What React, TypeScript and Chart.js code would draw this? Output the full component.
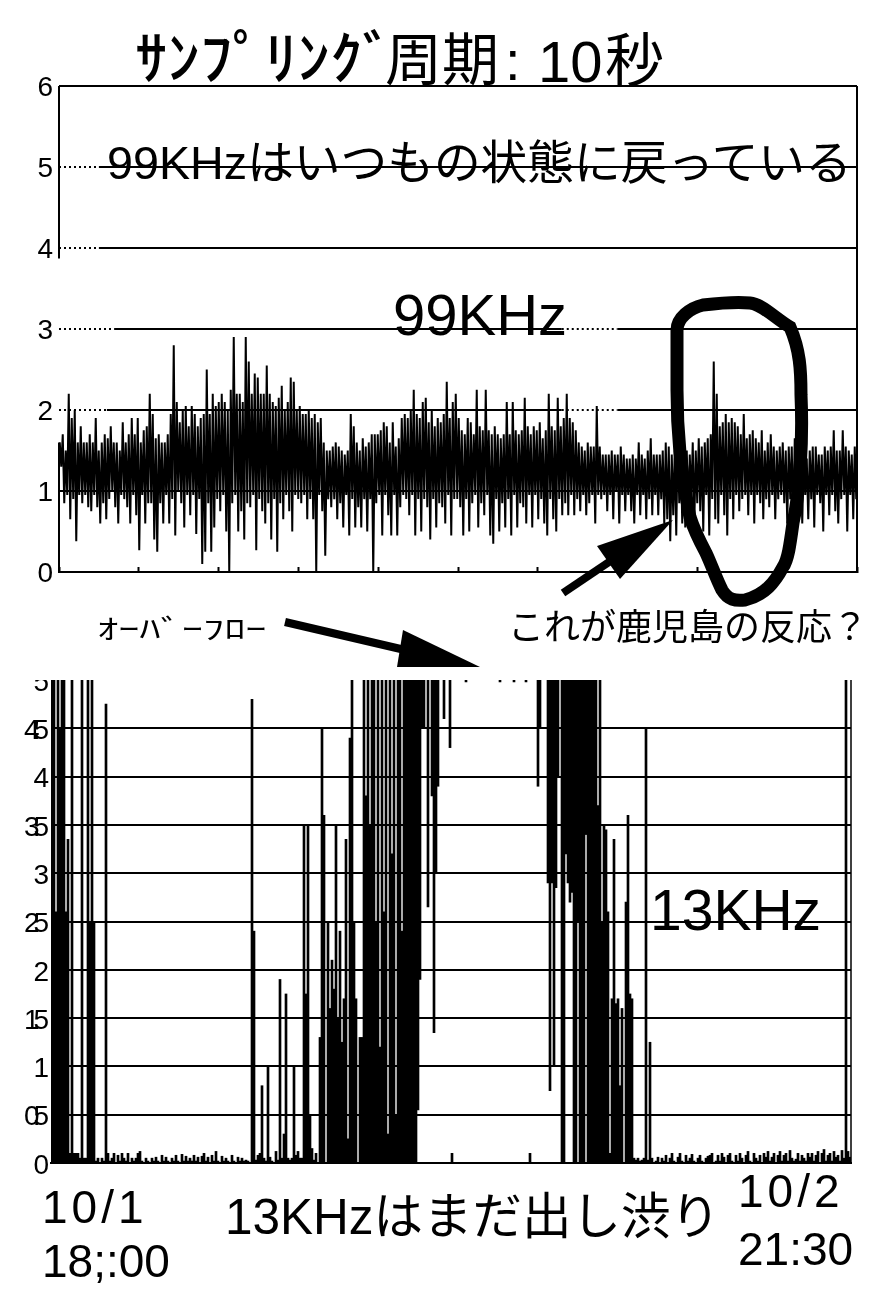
import React, { useEffect, useRef } from "react";
import { Chart, registerables } from "chart.js";

Chart.register(...registerables);

// ---- 99 KHz panel: spike tops / bottoms, one pair per column
const spikeHigh99 = [
  1.6,1.7,1.5,2.2,1.9,2.0,1.6,1.8,1.6,1.6,
  1.7,1.6,1.9,1.5,1.6,1.7,1.65,1.8,1.6,1.6,
  1.5,1.85,1.6,1.7,1.9,1.7,1.9,1.6,1.75,1.8,
  2.2,1.95,1.65,1.7,1.6,1.6,1.7,1.95,2.8,2.1,
  1.85,2.0,2.05,1.8,2.05,1.95,1.8,1.9,1.95,2.5,
  1.95,2.2,2.05,2.1,2.2,2.1,2.0,2.25,2.9,2.2,
  2.2,2.1,2.9,2.6,2.2,2.45,2.4,2.2,2.2,2.55,
  2.2,2.1,2.05,2.15,2.3,2.0,2.1,2.4,2.35,2.0,
  2.05,1.95,1.95,2.0,1.9,1.95,1.85,1.9,1.6,1.5,
  1.5,1.55,1.6,1.55,1.5,1.45,1.5,1.95,1.8,1.6,
  1.5,1.65,1.55,1.6,1.7,1.7,1.7,1.75,1.85,1.8,
  1.6,1.85,1.55,1.65,1.9,1.95,1.9,2.0,2.25,1.95,
  1.9,2.1,2.15,1.85,2.0,1.8,1.9,1.85,1.95,2.35,
  1.9,2.1,2.2,1.9,1.75,1.7,1.9,1.85,1.7,2.25,
  1.8,1.75,2.25,1.75,1.7,1.8,1.7,1.65,1.7,2.1,
  1.7,2.1,1.75,1.7,1.75,2.15,1.8,1.7,1.8,1.75,
  1.85,1.65,1.75,2.2,1.8,1.75,2.15,1.8,1.9,2.2,
  1.9,1.85,1.75,1.6,1.55,1.5,1.6,1.55,1.55,2.05,
  1.55,1.45,1.45,1.45,1.5,1.45,1.45,1.55,1.45,1.4,
  1.4,1.45,1.4,1.6,1.45,1.4,1.5,1.65,1.45,1.45,
  1.45,1.5,1.6,1.55,1.45,1.5,1.7,1.5,1.55,1.5,
  1.45,1.6,1.5,1.65,1.55,1.6,1.65,1.7,2.6,2.2,
  1.8,1.85,1.95,1.85,1.9,1.85,1.8,1.7,1.95,1.65,
  1.7,1.75,1.65,1.6,1.75,1.5,1.6,1.7,1.55,1.5,
  1.55,1.6,1.5,1.55,1.55,1.65,1.45,1.45,1.45,1.4,
  1.5,1.55,1.55,1.45,1.45,1.55,1.5,1.55,1.75,1.5,
  1.5,1.75,1.55,1.5,1.45,1.55,
];
const spikeLow99 = [
  1.3,.85,.95,.65,.9,.38,.95,.85,.95,.8,
  .75,.95,.8,.6,.85,.65,.9,1,.8,.6,
  .95,.9,.8,.6,.95,.7,.27,.95,.6,.85,
  .85,.4,.25,.85,.6,.95,.6,.9,.45,1.0,
  .85,.55,.95,.7,.95,.47,.9,.1,.25,.85,
  .25,.55,.9,.75,.95,.5,0,.85,.95,.5,
  .75,.4,.85,.8,.95,.27,.9,.75,.6,.85,
  .4,.9,.25,.85,.65,.95,.75,.5,.95,.9,
  .85,.95,.65,.9,.65,0,.95,.75,.2,.9,
  .8,.9,.65,.85,.55,.95,.45,.9,.55,.8,
  .55,.9,.5,.9,0,.85,.95,.45,.95,.7,
  .45,.95,.45,.8,.95,.9,.7,.95,.45,.9,
  .5,.9,.8,.4,.9,.55,.85,.8,.6,.95,
  .45,.9,.9,.8,.45,.9,.5,.85,.95,.55,
  .85,.7,.95,.45,.35,.9,.5,.85,.55,.9,
  .45,.95,.55,.85,.8,.6,.95,.55,.95,.65,
  .9,.6,.45,.9,.65,.5,.9,.7,.85,.7,
  .95,.7,.9,.75,.95,.7,.85,.95,.6,.95,
  .9,.95,.75,.95,.65,1.0,.6,.95,.75,.95,
  .75,.6,.95,.7,.95,.65,.9,.7,.95,.7,
  .9,.6,.65,.38,.7,.45,.85,.6,.55,.7,
  .9,.55,.85,.75,.5,.95,.45,.9,.65,.6,
  .95,.7,.45,.9,.65,.95,.75,.9,.95,.7,
  .95,.6,.95,.85,.65,.9,.8,.95,.65,.9,
  .95,.85,.6,.9,.55,.95,.7,.6,.95,.65,
  .9,.55,.95,.85,.5,.95,.7,.95,.75,.6,
  .9,.95,.5,.95,.65,.9,
];

// ---- 13 KHz panel: heights of each column (values above 5 overflow the axis)
const columns13 = [
  6,6,2.6,6,4.5,6,6,2.6,3.35,.1,6,.1,.1,.1,.05,6,.05,.05,6,2.5,
  6,2.5,.02,.05,0,.05,.02,4.75,.1,.02,.05,.1,0,.08,.02,.1,.05,.02,.1,0,
  .05,.02,.05,.1,.12,.02,0,.05,.02,0,.05,.02,.06,.02,0,.08,.02,.06,.02,0,
  .05,.02,.08,.02,0,.09,.02,.07,.02,.05,.02,.08,.02,.06,0,.07,.1,.02,.06,0,
  .08,.02,.12,.02,0,.07,.02,.05,.02,0,.08,.02,0,.06,.02,.05,.02,.03,.02,0,
  4.8,2.4,.03,.08,.1,.8,.05,.02,1.0,.06,.02,0,.12,.03,1.9,.05,.3,1.75,.05,.03,
  .05,1.0,.08,.12,.05,.05,3.5,1.75,3.5,.5,.15,.03,.1,0,1.3,4.5,3.6,0,2.5,1.6,
  2.1,1.8,3.5,1.5,2.4,1.25,1.7,3.35,.25,4.4,6,2.5,1.7,0,1.3,1.3,6,3.8,6,3.5,
  6,6,2.5,6,1.2,6,2.6,6,.3,6,3.2,6,.5,6,6,2.4,6,6,6,6,
  6,6,6,0,0,0,0,0,0,0,0,0,0,0,0,0,0,0,0,0,
  .1,0,0,0,0,0,0,0,0,0,0,0,0,0,0,0,0,0,0,0,
  0,0,0,0,0,0,0,0,0,0,0,0,0,0,0,0,0,0,0,.1,
  0,0,0,0,0,0,0,0,0,0,0,0,0,0,0,6,6,0,0,0,
  0,6,6,0,6,6,6,0,6,6,6,6,6,3.7,6,2.5,3.5,3.45,2.6,.1,
  1.7,3.35,1.65,1.7,.8,1.6,0,2.7,3.6,1.75,1.7,.05,.03,.05,.02,.03,.05,4.5,.03,1.25,
  .05,0,.02,.06,0,.05,.02,.08,0,.05,.1,.02,0,.06,.1,.02,0,.08,.02,.05,
  .09,.02,0,.05,.08,.02,0,.05,.07,.08,.1,0,.02,.08,.02,.1,.06,0,.08,.1,
  .02,0,.08,.02,.1,.05,0,.08,.12,.02,0,.1,.05,.02,.08,0,.1,.06,.12,.02,
  .06,.1,0,.08,.12,.02,.08,.1,.02,.13,.05,.02,.04,.1,.02,.08,.05,.02,.1,.06,
  .1,.02,.08,.12,0,.1,.14,.02,.08,.1,.02,.12,.06,.08,.02,.13,.05,6,.12,.06,
];
// columns hanging down from the overflowed top edge, and how far they reach
const hangingColumns13 = [183,184,185,186,188,190,191,192,193,196,199,207,224,231,237,243,244,248,249,250,251,252,253,257,258,259,260,263,267];
const hangingLows13 = [.55,1.9,4.5,4.5,2.65,3.8,1.35,3.0,3.9,4.6,4.3,4.98,4.98,4.98,4.98,3.9,4.5,2.9,.75,2.9,1.0,2.85,4.0,3.2,2.9,2.7,2.8,2.5,3.4];

const TEXT_LATIN = "'Liberation Sans', Arial, sans-serif";
const TEXT_CJK = "'Liberation Sans', 'Noto Sans CJK JP', sans-serif";
const TEXT_JP = "'Noto Sans CJK JP'";

// fractions of the plot width where a grid line is only dotted
const dottedSpans99: Record<number, number[][]> = {
  5: [[0, 0.05]],
  4: [[0, 0.05]],
  3: [[0, 0.07], [0.63, 0.7]],
  2: [[0, 0.06], [0.63, 0.7]],
  1: [],
};

const frame99 = {
  id: "frame99",
  beforeDatasetsDraw(chart: any) {
    const { ctx, chartArea: a, scales } = chart;
    const y = scales.y;
    ctx.save();
    ctx.strokeStyle = "#000";
    ctx.lineWidth = 2;
    for (const v of [5, 4, 3, 2, 1]) {
      const py = Math.round(y.getPixelForValue(v));
      let cursor = 0;
      for (const [s, e] of dottedSpans99[v]) {
        ctx.setLineDash([]);
        if (s > cursor) {
          ctx.beginPath();
          ctx.moveTo(a.left + cursor * a.width, py);
          ctx.lineTo(a.left + s * a.width, py);
          ctx.stroke();
        }
        ctx.setLineDash([2, 3]);
        ctx.beginPath();
        ctx.moveTo(a.left + s * a.width, py);
        ctx.lineTo(a.left + e * a.width, py);
        ctx.stroke();
        cursor = e;
      }
      ctx.setLineDash([]);
      ctx.beginPath();
      ctx.moveTo(a.left + cursor * a.width, py);
      ctx.lineTo(a.right, py);
      ctx.stroke();
    }
    // frame: top, right, and the broken left edge
    ctx.beginPath();
    ctx.moveTo(a.left, a.top);
    ctx.lineTo(a.right, a.top);
    ctx.moveTo(a.right, a.top);
    ctx.lineTo(a.right, a.bottom);
    ctx.moveTo(a.left, a.top);
    ctx.lineTo(a.left, y.getPixelForValue(3.87));
    ctx.moveTo(a.left, y.getPixelForValue(1.6));
    ctx.lineTo(a.left, a.bottom);
    ctx.stroke();
    ctx.restore();
  },
};

const squeezeLabels = {
  id: "squeezeLabels",
  beforeDraw(chart: any) {
    chart.ctx.letterSpacing = "-7px";
  },
  afterDraw(chart: any) {
    chart.ctx.letterSpacing = "0px";
  },
};

const rightEdge13 = {
  id: "rightEdge13",
  afterDatasetsDraw(chart: any) {
    const { ctx, chartArea: a } = chart;
    ctx.save();
    ctx.strokeStyle = "#000";
    ctx.lineWidth = 1.5;
    ctx.beginPath();
    ctx.moveTo(a.right, a.top);
    ctx.lineTo(a.right, a.bottom);
    ctx.stroke();
    ctx.restore();
  },
};

function Label({ x, y, size, children, font = TEXT_CJK, weight = 400, sx = 1, spacing = 0 }: any) {
  return (
    <div
      style={{
        position: "absolute",
        left: x,
        top: y,
        fontFamily: font,
        fontSize: size,
        fontWeight: weight,
        lineHeight: 1,
        color: "#000",
        whiteSpace: "nowrap",
        letterSpacing: spacing,
        transform: sx === 1 ? undefined : `scaleX(${sx})`,
        transformOrigin: "left top",
      }}
    >
      {children}
    </div>
  );
}

export default function App() {
  const topRef = useRef<HTMLCanvasElement>(null);
  const bottomRef = useRef<HTMLCanvasElement>(null);

  useEffect(() => {
    const trace: { x: number; y: number }[] = [];
    spikeHigh99.forEach((h, i) => {
      trace.push({ x: i + 0.25, y: h });
      trace.push({ x: i + 0.75, y: spikeLow99[i] });
    });
    const top = new Chart(topRef.current!, {
      type: "line",
      data: {
        datasets: [
          {
            data: trace,
            borderColor: "#000",
            borderWidth: 2,
            pointRadius: 0,
            tension: 0,
            borderJoinStyle: "miter",
          } as any,
        ],
      },
      options: {
        animation: false,
        responsive: false,
        devicePixelRatio: 1,
        layout: { padding: { top: 86, right: 33, left: 0, bottom: 0 } },
        plugins: { legend: { display: false }, tooltip: { enabled: false } },
        scales: {
          x: {
            type: "linear",
            min: 0,
            max: spikeHigh99.length,
            afterFit(s: any) { s.height = 28; },
            afterBuildTicks(s: any) {
              s.ticks = Array.from({ length: 11 }, (_, i) => ({ value: (i * spikeHigh99.length) / 10 }));
            },
            ticks: { display: false },
            border: { color: "#000", width: 2 },
            grid: { drawOnChartArea: false, tickLength: -5, tickColor: "#000", tickWidth: 2 },
          },
          y: {
            min: 0,
            max: 6,
            afterFit(s: any) { s.width = 59; s.paddingTop = 0; s.paddingBottom = 0; },
            border: { display: false },
            grid: { display: false, drawTicks: false },
            ticks: {
              stepSize: 1,
              color: "#000",
              padding: 6,
              labelOffset: 2,
              font: { family: "Liberation Sans", size: 28 },
            },
          },
        },
      } as any,
      plugins: [frame99],
    });

    const labels13 = columns13.map((_, i) => String(i));
    const bottom = new Chart(bottomRef.current!, {
      type: "bar",
      data: {
        labels: labels13,
        datasets: [
          {
            data: columns13,
            backgroundColor: "#000",
            barPercentage: 1,
            categoryPercentage: 1,
            grouped: false,
          } as any,
          {
            data: hangingColumns13.map((c, i) => ({ x: labels13[c], y: [hangingLows13[i], 6] })) as any,
            backgroundColor: "#000",
            barPercentage: 1,
            categoryPercentage: 1,
            grouped: false,
          } as any,
        ],
      },
      options: {
        animation: false,
        responsive: false,
        devicePixelRatio: 1,
        layout: { padding: { top: 0, right: 39, left: 0, bottom: 0 } },
        plugins: { legend: { display: false }, tooltip: { enabled: false } },
        scales: {
          x: {
            offset: true,
            afterFit(s: any) { s.height = 27; },
            ticks: { display: false },
            border: { color: "#000", width: 2 },
            grid: { display: false },
          },
          y: {
            min: 0,
            max: 5,
            afterFit(s: any) { s.width = 51; s.paddingTop = 0; s.paddingBottom = 0; },
            border: { display: false },
            grid: {
              drawTicks: false,
              lineWidth: 2,
              color: (c: any) => (c.tick.value === 5 || c.tick.value === 0 ? "rgba(0,0,0,0)" : "#000"),
            },
            ticks: {
              stepSize: 0.5,
              color: "#000",
              padding: 9,
              labelOffset: 3,
              callback: (v: any) => String(v),
              font: { family: "Liberation Sans", size: 28 },
            },
          },
        },
      } as any,
      plugins: [squeezeLabels, rightEdge13],
    });

    return () => {
      top.destroy();
      bottom.destroy();
    };
  }, []);

  return (
    <div style={{ position: "absolute", left: 0, top: 0, width: 890, height: 1312, background: "#fff", overflow: "hidden" }}>
      <canvas ref={topRef} width={890} height={600} style={{ position: "absolute", left: 0, top: 0, width: 890, height: 600 }} />
      <canvas ref={bottomRef} width={890} height={510} style={{ position: "absolute", left: 0, top: 680, width: 890, height: 510 }} />

      <svg width={890} height={1312} style={{ position: "absolute", left: 0, top: 0 }}>
        <path
          d="M677 330 C677 318 690 308 703 305 C720 303 740 302 750 303 C762 304 775 318 790 327 C800 350 801 370 801 395 C803 440 800 490 793 523 C790 545 788 560 783 567 C775 582 765 595 745 600 C735 601 728 600 722 590 C716 578 712 566 706 553 C698 538 694 530 690 517 C682 480 677 440 677 390 Z"
          fill="none"
          stroke="#000"
          strokeWidth={13}
        />
        <line x1={563} y1={593} x2={612} y2={560} stroke="#000" strokeWidth={8} />
        <polygon points="597,546 673,520 620,579" fill="#000" />
        <line x1={285} y1={622} x2={405} y2={650} stroke="#000" strokeWidth={8} />
        <polygon points="403,630 480,667 397,667" fill="#000" />
      </svg>

      <Label x={135} y={25} size={58} font={TEXT_JP} weight={500} sx={1.12}>ｻﾝﾌﾟﾘﾝｸﾞ</Label>
      <Label x={385} y={27} size={57} font={TEXT_JP}>周期</Label>
      <Label x={505} y={33} size={56} font={TEXT_LATIN}>:</Label>
      <Label x={538} y={33} size={58} font={TEXT_LATIN}>10</Label>
      <Label x={605} y={27} size={59} font={TEXT_JP}>秒</Label>
      <Label x={107} y={140} size={46.7}>99KHzはいつもの状態に戻っている</Label>
      <Label x={393} y={286} size={58} font={TEXT_LATIN}>99KHz</Label>
      <Label x={97} y={614} size={27} font={TEXT_JP} sx={1.57}>ｵｰﾊﾞｰﾌﾛｰ</Label>
      <Label x={508} y={610} size={36}>これが鹿児島の反応？</Label>
      <Label x={650} y={882} size={57} font={TEXT_LATIN}>13KHz</Label>
      <Label x={225} y={1192} size={49.5}>13KHzはまだ出し渋り</Label>
      <Label x={42} y={1184} size={46} font={TEXT_LATIN} spacing={4}>10/1</Label>
      <Label x={42} y={1238} size={46} font={TEXT_LATIN}>18;:00</Label>
      <Label x={738} y={1168} size={46} font={TEXT_LATIN} spacing={4}>10/2</Label>
      <Label x={738} y={1226} size={46} font={TEXT_LATIN}>21:30</Label>
    </div>
  );
}
